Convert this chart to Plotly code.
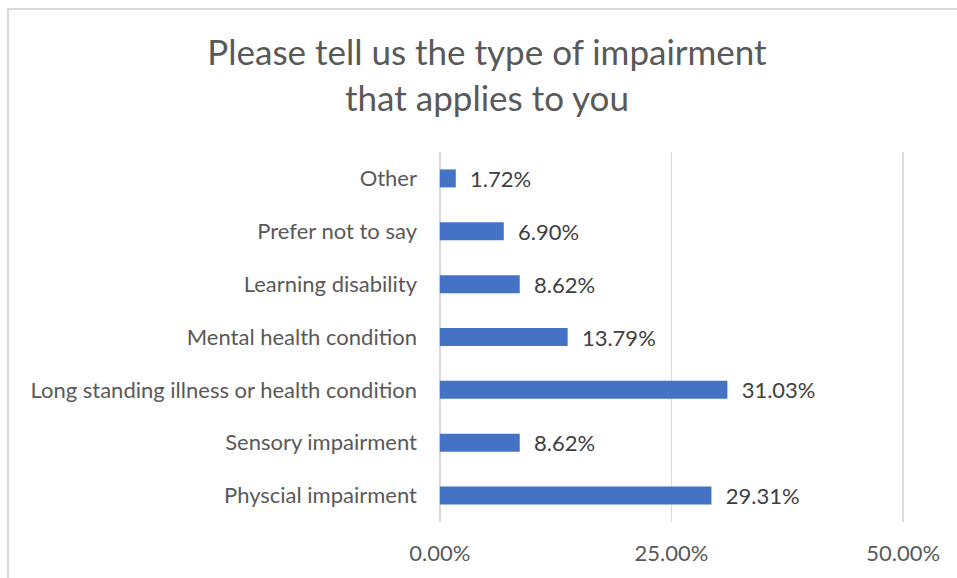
import plotly.graph_objects as go

categories = ["Physcial impairment", "Sensory impairment", "Long standing illness or health condition",
              "Mental health condition", "Learning disability", "Prefer not to say", "Other"]
values = [29.31, 8.62, 31.03, 13.79, 8.62, 6.90, 1.72]
x_ticks = [0, 25, 50]
x_tick_labels = ["0.00%", "25.00%", "50.00%"]
title_text = "Please tell us the type of impairment<br>that applies to you"

W, H = 957, 578
L, R, T, B = 438, 52, 152, 56
FONT = "Lato"

fig = go.Figure(go.Bar(
    y=categories, x=values, orientation="h",
    marker=dict(color="#4472C4", line=dict(width=0)),
    text=[f"\u00a0\u00a0{v:.2f}%" for v in values], textposition="outside",
    constraintext="none",
    textfont=dict(family=FONT, size=22, color="#404040"),
    cliponaxis=False,
    hoverinfo="skip",
))

pw = W - L - R
ph = H - T - B
fig.update_layout(
    width=W, height=H,
    margin=dict(l=L, r=R, t=T, b=B, autoexpand=False),
    paper_bgcolor="white", plot_bgcolor="white",
    bargap=0.66,
    showlegend=False,
    title=dict(text=title_text, x=487 / W, xanchor="center",
               y=1 - 65 / H, yanchor="middle",
               font=dict(family=FONT, size=35, color="#595959")),
    xaxis=dict(range=[-0.2, 50.2], tickvals=x_ticks, ticktext=x_tick_labels,
               showgrid=True, gridcolor="#D9D9D9", gridwidth=1.5,
               zeroline=False, showline=False, ticks="", ticklen=0,
               automargin=False, ticklabelstandoff=16,
               tickfont=dict(family=FONT, size=22, color="#595959")),
    yaxis=dict(categoryorder="array", categoryarray=categories,
               showgrid=False, zeroline=False, showline=False, ticks="",
               automargin=False, ticklabelstandoff=20,
               tickfont=dict(family=FONT, size=22, color="#595959")),
    shapes=[dict(type="rect", xref="paper", yref="paper",
                 x0=(8 - L) / pw, x1=(W + 10 - L) / pw,
                 y0=-(B + 10) / ph, y1=1 + (T - 9) / ph,
                 line=dict(color="#D9D9D9", width=2), fillcolor="rgba(0,0,0,0)", layer="below")],
)
fig.write_html("out.html", config={"displayModeBar": False, "staticPlot": True})
with open("out.html", "r", encoding="utf-8") as f:
    html = f.read()
html = html.replace("<head>", "<head><style>html,body{margin:0;padding:0;overflow:hidden;}</style>", 1)
with open("out.html", "w", encoding="utf-8") as f:
    f.write(html)
